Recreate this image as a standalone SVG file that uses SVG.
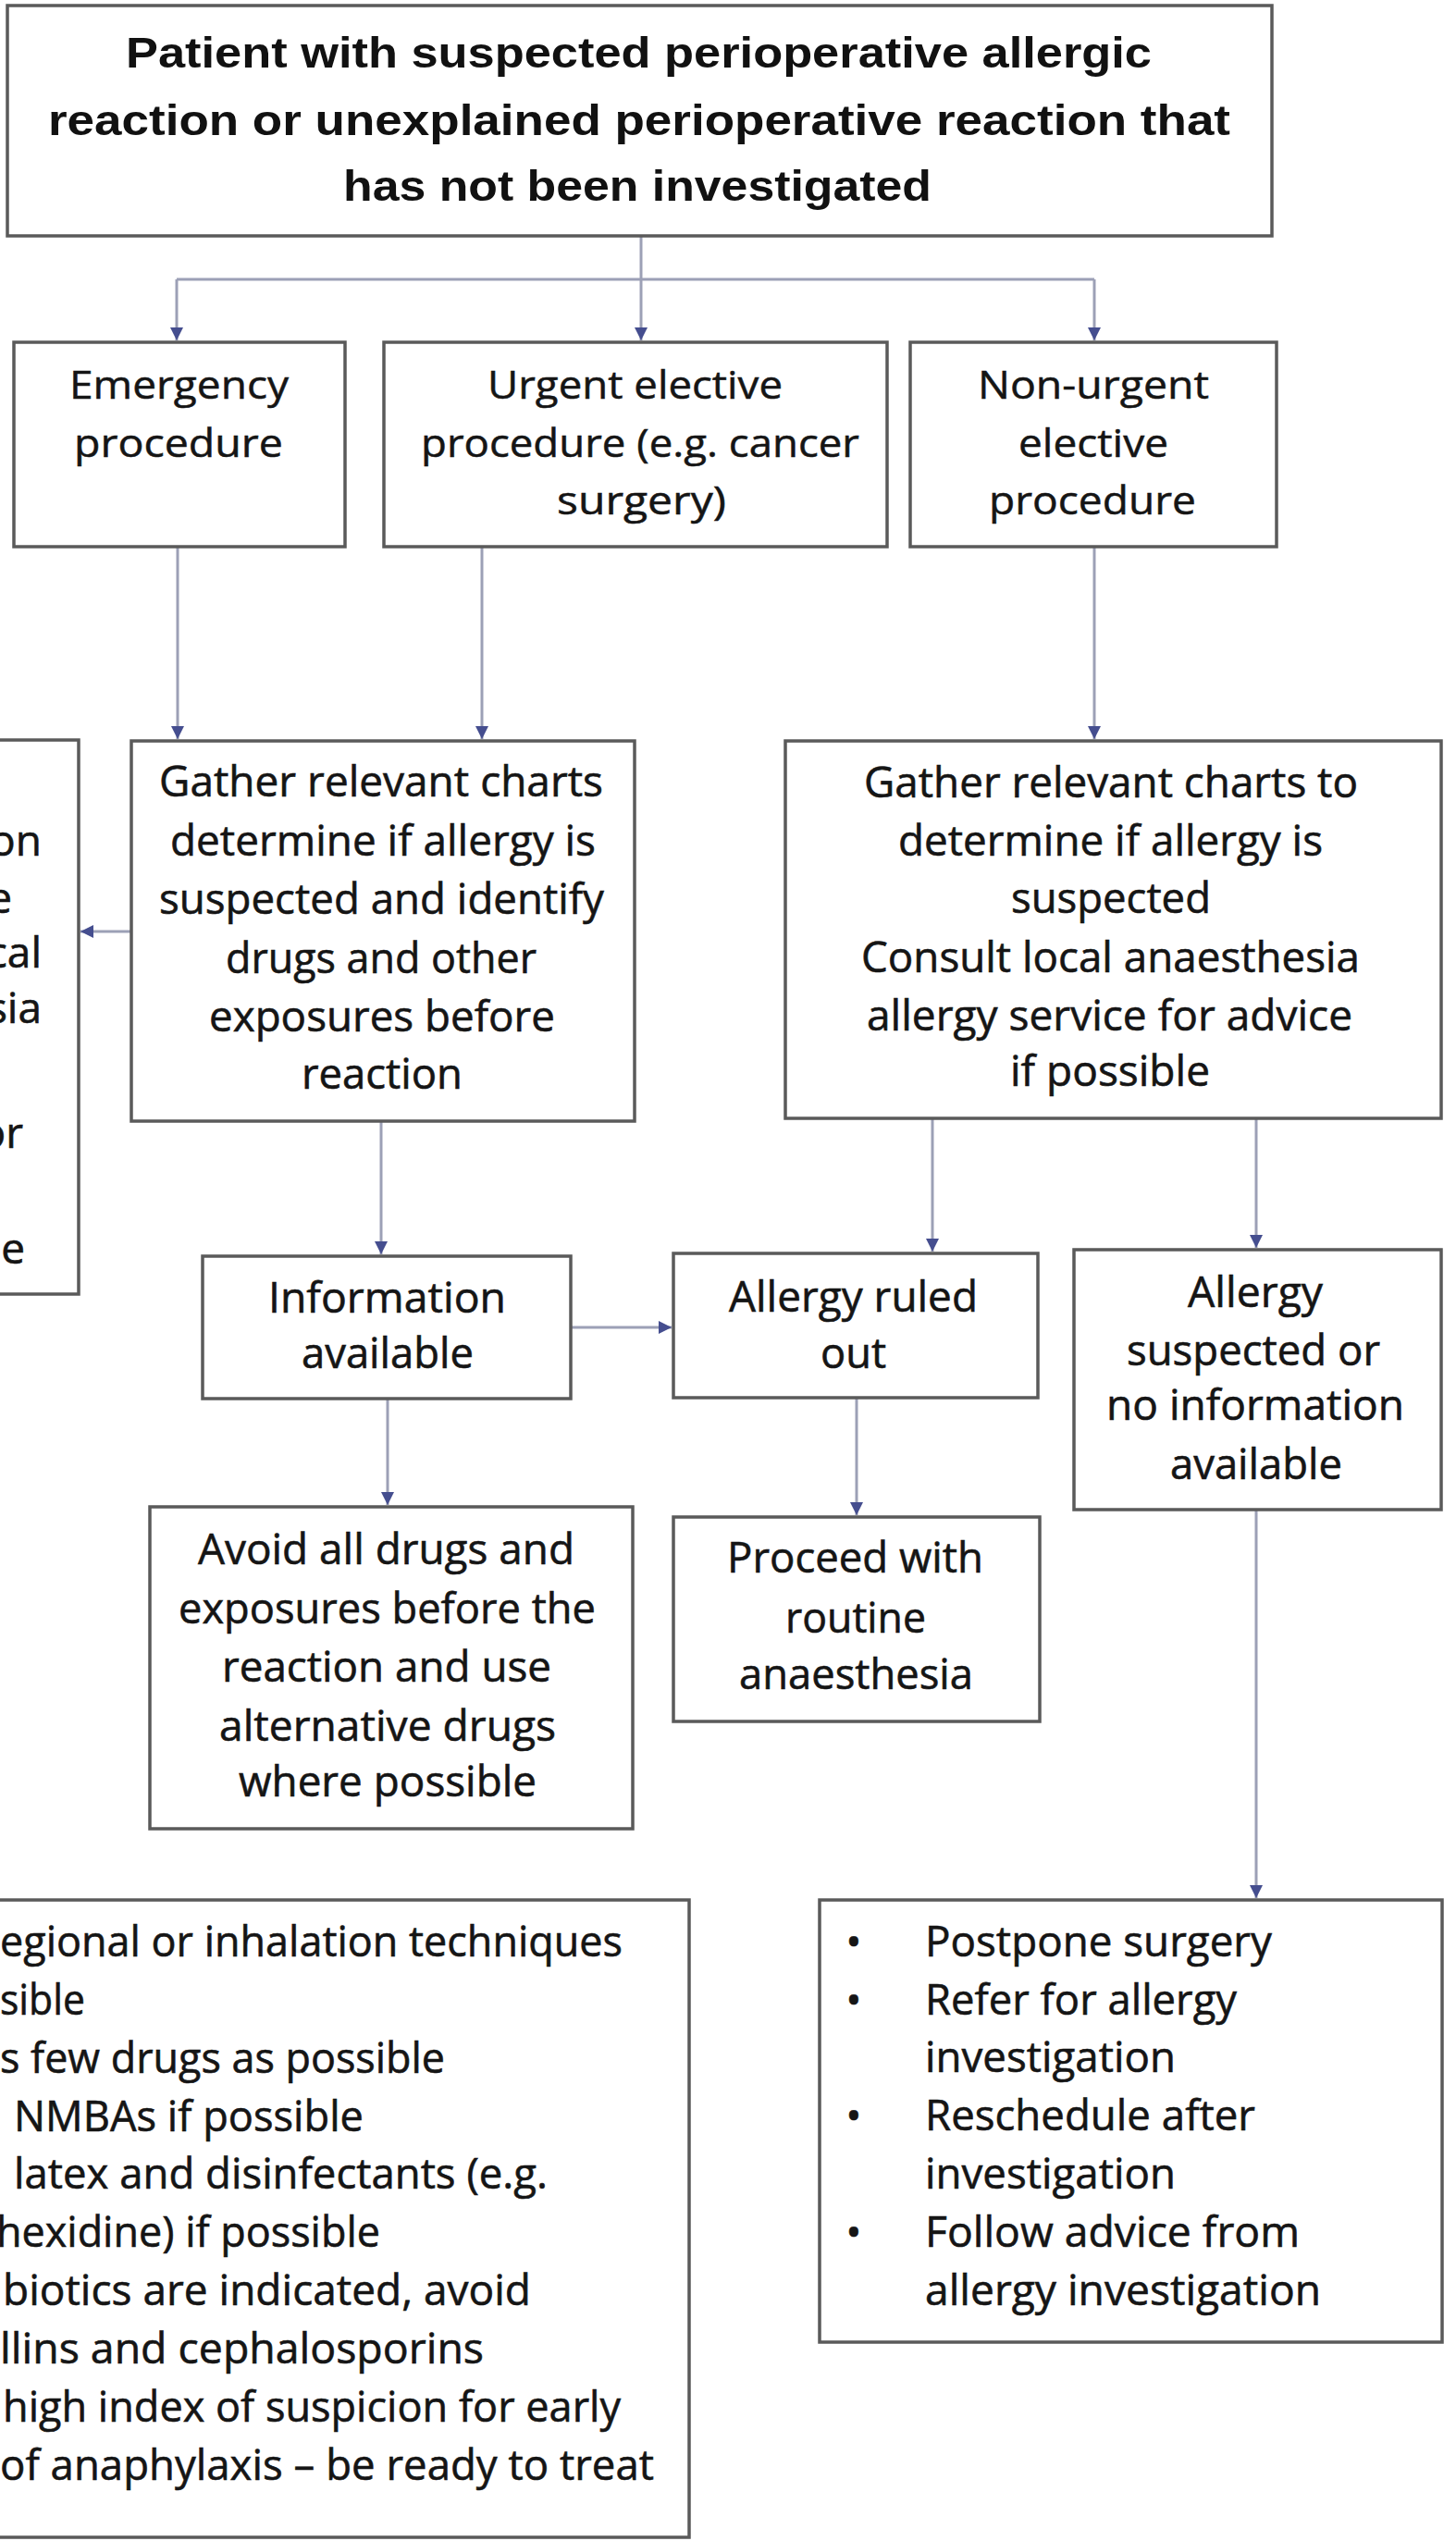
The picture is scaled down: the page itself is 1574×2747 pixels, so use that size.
<svg xmlns="http://www.w3.org/2000/svg" width="1574" height="2747" viewBox="0 0 1574 2747">
<defs>
<marker id="ah" markerUnits="userSpaceOnUse" markerWidth="16" markerHeight="14" refX="14" refY="7" orient="auto"><path d="M0,0 L14,7 L0,14 z" fill="#454e8f"/></marker>
<style>
.box{fill:#fff;stroke:#5a5a5a;stroke-width:3.5}
.t{font-family:"Open Sans","Noto Sans",sans-serif;font-size:46px;fill:#151515;stroke:#151515;stroke-width:0.6}
.t2{font-family:"Open Sans","Noto Sans",sans-serif;font-size:42px;fill:#151515;stroke:#151515;stroke-width:0.5}
.tb{font-family:"Liberation Sans",Arial,sans-serif;font-weight:bold;font-size:46px;fill:#111}
.e{text-anchor:end}
.m{text-anchor:middle}
.c{fill:none;stroke:#9ca0b6;stroke-width:3}
</style>
</defs>
<rect width="1574" height="2747" fill="#fff"/>

<g id="connectors">
<path class="c" d="M693,255 V368" marker-end="url(#ah)"/>
<path class="c" d="M191,302 H1183"/>
<path class="c" d="M191,302 V368" marker-end="url(#ah)"/>
<path class="c" d="M1183,302 V368" marker-end="url(#ah)"/>
<path class="c" d="M192,591 V799" marker-end="url(#ah)"/>
<path class="c" d="M521,591 V799" marker-end="url(#ah)"/>
<path class="c" d="M1183,591 V799" marker-end="url(#ah)"/>
<path class="c" d="M142,1007 H87" marker-end="url(#ah)"/>
<path class="c" d="M412,1212 V1356" marker-end="url(#ah)"/>
<path class="c" d="M617,1435 H726" marker-end="url(#ah)"/>
<path class="c" d="M1008,1209 V1353" marker-end="url(#ah)"/>
<path class="c" d="M1358,1209 V1349" marker-end="url(#ah)"/>
<path class="c" d="M419,1512 V1627" marker-end="url(#ah)"/>
<path class="c" d="M926,1511 V1638" marker-end="url(#ah)"/>
<path class="c" d="M1358,1632 V2052" marker-end="url(#ah)"/>
</g>

<g id="n-start">
<rect class="box" x="8" y="6" width="1367" height="249"/>
<text class="tb" x="136" y="73" textLength="1109" lengthAdjust="spacingAndGlyphs">Patient with suspected perioperative allergic</text>
<text class="tb" x="52" y="146" textLength="1278" lengthAdjust="spacingAndGlyphs">reaction or unexplained perioperative reaction that</text>
<text class="tb" x="371" y="217" textLength="636" lengthAdjust="spacingAndGlyphs">has not been investigated</text>
</g>

<g id="n-emergency">
<rect class="box" x="15" y="370" width="358" height="221"/>
<text class="t2" x="75" y="431" textLength="237" lengthAdjust="spacingAndGlyphs">Emergency</text>
<text class="t2" x="80" y="494" textLength="226" lengthAdjust="spacingAndGlyphs">procedure</text>
</g>

<g id="n-urgent">
<rect class="box" x="415" y="370" width="544" height="221"/>
<text class="t2" x="527" y="431" textLength="319" lengthAdjust="spacingAndGlyphs">Urgent elective</text>
<text class="t2" x="455" y="494" textLength="474" lengthAdjust="spacingAndGlyphs">procedure (e.g. cancer</text>
<text class="t2" x="602" y="556" textLength="183" lengthAdjust="spacingAndGlyphs">surgery)</text>
</g>

<g id="n-nonurgent">
<rect class="box" x="984" y="370" width="396" height="221"/>
<text class="t2" x="1057" y="431" textLength="250" lengthAdjust="spacingAndGlyphs">Non-urgent</text>
<text class="t2" x="1101" y="494" textLength="162" lengthAdjust="spacingAndGlyphs">elective</text>
<text class="t2" x="1069" y="556" textLength="224" lengthAdjust="spacingAndGlyphs">procedure</text>
</g>

<g id="n-left">
<rect class="box" x="-10" y="800" width="95" height="599"/>
<text class="t e" x="45" y="925">on</text>
<text class="t e" x="13" y="987">e</text>
<text class="t e" x="45" y="1046">cal</text>
<text class="t e" x="45" y="1106">sia</text>
<text class="t e" x="25" y="1241">or</text>
<text class="t e" x="27" y="1366">e</text>
</g>

<g id="n-gather-left">
<rect class="box" x="142" y="801" width="544" height="411"/>
<text class="t" x="172" y="861" textLength="480" lengthAdjust="spacingAndGlyphs">Gather relevant charts</text>
<text class="t" x="184" y="925" textLength="460" lengthAdjust="spacingAndGlyphs">determine if allergy is</text>
<text class="t" x="172" y="988" textLength="481" lengthAdjust="spacingAndGlyphs">suspected and identify</text>
<text class="t" x="244" y="1052" textLength="336" lengthAdjust="spacingAndGlyphs">drugs and other</text>
<text class="t" x="226" y="1115" textLength="374" lengthAdjust="spacingAndGlyphs">exposures before</text>
<text class="t" x="326" y="1177" textLength="174" lengthAdjust="spacingAndGlyphs">reaction</text>
</g>

<g id="n-gather-right">
<rect class="box" x="849" y="801" width="709" height="408"/>
<text class="t" x="934" y="862" textLength="534" lengthAdjust="spacingAndGlyphs">Gather relevant charts to</text>
<text class="t" x="971" y="925" textLength="459" lengthAdjust="spacingAndGlyphs">determine if allergy is</text>
<text class="t" x="1093" y="987" textLength="216" lengthAdjust="spacingAndGlyphs">suspected</text>
<text class="t" x="931" y="1051" textLength="539" lengthAdjust="spacingAndGlyphs">Consult local anaesthesia</text>
<text class="t" x="937" y="1114" textLength="525" lengthAdjust="spacingAndGlyphs">allergy service for advice</text>
<text class="t" x="1092" y="1174" textLength="216" lengthAdjust="spacingAndGlyphs">if possible</text>
</g>

<g id="n-info">
<rect class="box" x="219" y="1358" width="398" height="154"/>
<text class="t" x="290" y="1419" textLength="257" lengthAdjust="spacingAndGlyphs">Information</text>
<text class="t" x="326" y="1479" textLength="186" lengthAdjust="spacingAndGlyphs">available</text>
</g>

<g id="n-ruledout">
<rect class="box" x="728" y="1355" width="394" height="156"/>
<text class="t" x="788" y="1418" textLength="269" lengthAdjust="spacingAndGlyphs">Allergy ruled</text>
<text class="t" x="887" y="1479" textLength="71" lengthAdjust="spacingAndGlyphs">out</text>
</g>

<g id="n-suspected">
<rect class="box" x="1161" y="1351" width="397" height="281"/>
<text class="t" x="1284" y="1413" textLength="146" lengthAdjust="spacingAndGlyphs">Allergy</text>
<text class="t" x="1218" y="1476" textLength="274" lengthAdjust="spacingAndGlyphs">suspected or</text>
<text class="t" x="1196" y="1535" textLength="322" lengthAdjust="spacingAndGlyphs">no information</text>
<text class="t" x="1265" y="1599" textLength="186" lengthAdjust="spacingAndGlyphs">available</text>
</g>

<g id="n-avoid">
<rect class="box" x="162" y="1629" width="522" height="348"/>
<text class="t" x="214" y="1691" textLength="407" lengthAdjust="spacingAndGlyphs">Avoid all drugs and</text>
<text class="t" x="193" y="1755" textLength="451" lengthAdjust="spacingAndGlyphs">exposures before the</text>
<text class="t" x="240" y="1818" textLength="356" lengthAdjust="spacingAndGlyphs">reaction and use</text>
<text class="t" x="237" y="1882" textLength="364" lengthAdjust="spacingAndGlyphs">alternative drugs</text>
<text class="t" x="258" y="1942" textLength="322" lengthAdjust="spacingAndGlyphs">where possible</text>
</g>

<g id="n-proceed">
<rect class="box" x="728" y="1640" width="396" height="221"/>
<text class="t" x="786" y="1700" textLength="277" lengthAdjust="spacingAndGlyphs">Proceed with</text>
<text class="t" x="849" y="1765" textLength="152" lengthAdjust="spacingAndGlyphs">routine</text>
<text class="t" x="799" y="1826" textLength="253" lengthAdjust="spacingAndGlyphs">anaesthesia</text>
</g>

<g id="n-bottom-left">
<rect class="box" x="-10" y="2054" width="755" height="689"/>
<text class="t" x="0" y="2115" textLength="673" lengthAdjust="spacingAndGlyphs">egional or inhalation techniques</text>
<text class="t" x="0" y="2178" textLength="92" lengthAdjust="spacingAndGlyphs">sible</text>
<text class="t" x="0" y="2241" textLength="481" lengthAdjust="spacingAndGlyphs">s few drugs as possible</text>
<text class="t" x="15" y="2304" textLength="378" lengthAdjust="spacingAndGlyphs">NMBAs if possible</text>
<text class="t" x="15" y="2366" textLength="577" lengthAdjust="spacingAndGlyphs">latex and disinfectants (e.g.</text>
<text class="t" x="-4" y="2429" textLength="415" lengthAdjust="spacingAndGlyphs">hexidine) if possible</text>
<text class="t" x="3" y="2492" textLength="571" lengthAdjust="spacingAndGlyphs">biotics are indicated, avoid</text>
<text class="t" x="0" y="2555" textLength="523" lengthAdjust="spacingAndGlyphs">llins and cephalosporins</text>
<text class="t" x="3" y="2618" textLength="668" lengthAdjust="spacingAndGlyphs">high index of suspicion for early</text>
<text class="t" x="0" y="2681" textLength="707" lengthAdjust="spacingAndGlyphs">of anaphylaxis – be ready to treat</text>
</g>

<g id="n-bottom-right">
<rect class="box" x="886" y="2054" width="673" height="478"/>
<text class="t m" x="923" y="2115">•</text>
<text class="t" x="1000" y="2115" textLength="375" lengthAdjust="spacingAndGlyphs">Postpone surgery</text>
<text class="t m" x="923" y="2178">•</text>
<text class="t" x="1000" y="2178" textLength="337" lengthAdjust="spacingAndGlyphs">Refer for allergy</text>
<text class="t" x="1000" y="2240" textLength="271" lengthAdjust="spacingAndGlyphs">investigation</text>
<text class="t m" x="923" y="2303">•</text>
<text class="t" x="1000" y="2303" textLength="357" lengthAdjust="spacingAndGlyphs">Reschedule after</text>
<text class="t" x="1000" y="2366" textLength="271" lengthAdjust="spacingAndGlyphs">investigation</text>
<text class="t m" x="923" y="2429">•</text>
<text class="t" x="1000" y="2429" textLength="405" lengthAdjust="spacingAndGlyphs">Follow advice from</text>
<text class="t" x="1000" y="2492" textLength="428" lengthAdjust="spacingAndGlyphs">allergy investigation</text>
</g>
</svg>
